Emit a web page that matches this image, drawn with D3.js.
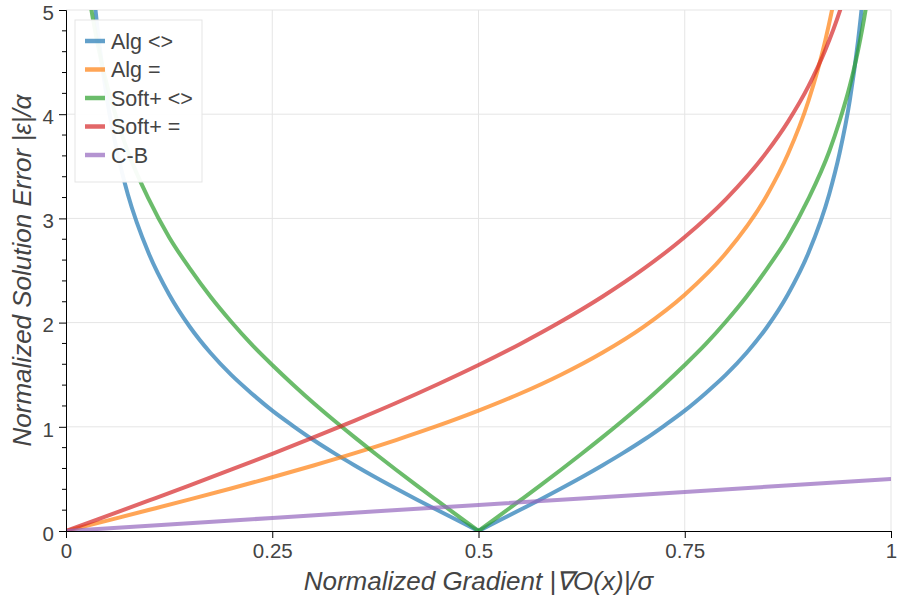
<!DOCTYPE html>
<html>
<head>
<meta charset="utf-8">
<script src="https://cdn.jsdelivr.net/npm/d3@7"></script>
<style>
  body { margin: 0; background: #fff; }
  svg { font-family: "Liberation Sans", Helvetica, Arial, sans-serif; }
</style>
</head>
<body>
<div id="chart"></div>
<script>
// values
const seriesNames = ["Alg <>", "Alg =", "Soft+ <>", "Soft+ =", "C-B"];
const seriesColors = ["#1f77b4", "#ff7f0e", "#2ca02c", "#d62728", "#9467bd"];

const xTicks = [0, 0.25, 0.5, 0.75, 1];
const xTickLabels = ["0", "0.25", "0.5", "0.75", "1"];
const yTicks = [0, 1, 2, 3, 4, 5];

const xAlgNe = [0.03, 0.035, 0.04, 0.05, 0.0625, 0.075, 0.1, 0.125, 0.15, 0.175, 0.2, 0.225, 0.25, 0.275, 0.3, 0.325, 0.35, 0.375, 0.4, 0.425, 0.45, 0.475, 0.5,
                0.525, 0.55, 0.575, 0.6, 0.625, 0.65, 0.675, 0.7, 0.725, 0.75, 0.775, 0.8, 0.825, 0.85, 0.875, 0.9, 0.925, 0.9375, 0.95, 0.96, 0.965, 0.97];
const yAlgNe = [5.51, 5.06, 4.70, 4.13, 3.62, 3.23, 2.67, 2.27, 1.96, 1.71, 1.50, 1.32, 1.155, 1.01, 0.873, 0.747, 0.629, 0.516, 0.408, 0.303, 0.201, 0.100, 0,
                0.100, 0.201, 0.303, 0.408, 0.516, 0.629, 0.747, 0.873, 1.01, 1.155, 1.32, 1.50, 1.71, 1.96, 2.27, 2.67, 3.23, 3.62, 4.13, 4.70, 5.06, 5.51];

const xAlgEq = [0, 0.05, 0.1, 0.15, 0.2, 0.25, 0.3, 0.35, 0.4, 0.45, 0.5, 0.55, 0.6, 0.65, 0.7, 0.75, 0.8, 0.85, 0.875, 0.9, 0.92, 0.93, 0.94];
const yAlgEq = [0, 0.100, 0.201, 0.303, 0.408, 0.516, 0.629, 0.747, 0.873, 1.008, 1.155, 1.317, 1.50, 1.711, 1.96, 2.268, 2.667, 3.227, 3.615, 4.129, 4.695, 5.06, 5.51];

const xSoftNe = [0.025, 0.03, 0.04, 0.05, 0.0625, 0.075, 0.1, 0.125, 0.15, 0.175, 0.2, 0.225, 0.25, 0.275, 0.3, 0.325, 0.35, 0.375, 0.4, 0.425, 0.45, 0.475, 0.5,
                 0.525, 0.55, 0.575, 0.6, 0.625, 0.65, 0.675, 0.7, 0.725, 0.75, 0.775, 0.8, 0.825, 0.85, 0.875, 0.9, 0.925, 0.9375, 0.95, 0.96, 0.97, 0.975];
const ySoftNe = [5.31, 5.04, 4.61, 4.27, 3.93, 3.64, 3.19, 2.82, 2.52, 2.25, 2.01, 1.79, 1.593, 1.406, 1.228, 1.06, 0.898, 0.741, 0.588, 0.438, 0.291, 0.145, 0,
                 0.145, 0.291, 0.438, 0.588, 0.741, 0.898, 1.06, 1.228, 1.406, 1.593, 1.79, 2.01, 2.25, 2.52, 2.82, 3.19, 3.64, 3.93, 4.27, 4.61, 5.04, 5.31];

const xSoftEq = [0, 0.05, 0.1, 0.15, 0.2, 0.25, 0.3, 0.35, 0.4, 0.45, 0.5, 0.55, 0.6, 0.65, 0.7, 0.75, 0.8, 0.85, 0.875, 0.9, 0.92, 0.94, 0.95];
const ySoftEq = [0, 0.145, 0.291, 0.438, 0.588, 0.741, 0.898, 1.06, 1.228, 1.406, 1.593, 1.793, 2.01, 2.248, 2.515, 2.822, 3.186, 3.643, 3.927, 4.269, 4.608, 5.04, 5.31];

const xCB = [0, 0.25, 0.5, 0.75, 1];
const yCB = [0, 0.125, 0.25, 0.375, 0.5];

const seriesX = [xAlgNe, xAlgEq, xSoftNe, xSoftEq, xCB];
const seriesY = [yAlgNe, yAlgEq, ySoftNe, ySoftEq, yCB];

const margin = {top: 10, right: 9, bottom: 69, left: 66};
const width = 900 - margin.left - margin.right;
const height = 600 - margin.top - margin.bottom;

const svg = d3.select("#chart").append("svg")
    .attr("width", 900)
    .attr("height", 600);

const g = svg.append("g")
    .attr("transform", `translate(${margin.left},${margin.top})`);

const x = d3.scaleLinear().domain([0, 1]).range([0, width]);
const y = d3.scaleLinear().domain([0, 5]).range([height, 0]);

// grid
g.append("g").selectAll("line")
    .data(xTicks.slice(1))
    .join("line")
    .attr("x1", d => x(d)).attr("x2", d => x(d))
    .attr("y1", 0).attr("y2", height)
    .attr("stroke", "#e5e5e5");

g.append("g").selectAll("line")
    .data(yTicks.slice(1))
    .join("line")
    .attr("x1", 0).attr("x2", width)
    .attr("y1", d => y(d)).attr("y2", d => y(d))
    .attr("stroke", "#e5e5e5");

g.append("clipPath").attr("id", "plot-clip")
    .append("rect").attr("width", width).attr("height", height);

const line = d3.line()
    .x(d => x(d[0]))
    .y(d => y(d[1]))
    .curve(d3.curveMonotoneX);

// V-shaped series are drawn as two branches so the corner at 0.5 stays sharp
const lines = g.append("g").attr("clip-path", "url(#plot-clip)");
seriesNames.forEach((name, i) => {
    const pts = seriesX[i].map((v, j) => [v, seriesY[i][j]]);
    const kink = pts.findIndex((p, j) => j > 0 && j < pts.length - 1 && p[1] < pts[j - 1][1] && p[1] < pts[j + 1][1]);
    const branches = kink > 0 ? [pts.slice(0, kink + 1), pts.slice(kink)] : [pts];
    branches.forEach(b => {
        lines.append("path")
            .datum(b)
            .attr("fill", "none")
            .attr("stroke", seriesColors[i])
            .attr("stroke-opacity", 0.7)
            .attr("stroke-width", 4)
            .attr("d", line);
    });
});

// axes
const xAxis = g.append("g")
    .attr("transform", `translate(0,${height})`)
    .call(d3.axisBottom(x).tickValues(xTicks)
        .tickFormat((d, i) => xTickLabels[i]).tickSizeOuter(0).tickSize(7).tickPadding(5));

const yAxis = g.append("g")
    .call(d3.axisLeft(y).tickValues(yTicks).tickFormat(d3.format("d"))
        .tickSizeOuter(0).tickSize(7).tickPadding(5));
yAxis.selectAll(".tick text").attr("dy", "0.45em");

[xAxis, yAxis].forEach(a => {
    a.attr("font-family", null).attr("font-size", 20.5);
    a.select(".domain").attr("stroke", "#000");
    a.selectAll(".tick text").attr("fill", "#444");
});

// minor ticks on y
g.append("g").selectAll("line")
    .data(d3.range(0, 25).map(k => k * 0.2).filter(v => Math.abs(v - Math.round(v)) > 1e-6))
    .join("line")
    .attr("x1", -4).attr("x2", 0)
    .attr("y1", d => y(d)).attr("y2", d => y(d))
    .attr("stroke", "#000");

// axis labels
svg.append("text")
    .attr("x", margin.left + width / 2)
    .attr("y", 590)
    .attr("text-anchor", "middle")
    .attr("font-style", "italic")
    .attr("font-size", 26)
    .attr("fill", "#444")
    .text("Normalized Gradient |∇O(x)|/σ");

svg.append("text")
    .attr("transform", `translate(31,${margin.top + height / 2}) rotate(-90)`)
    .attr("text-anchor", "middle")
    .attr("font-style", "italic")
    .attr("font-size", 26)
    .attr("fill", "#444")
    .text("Normalized Solution Error |ε|/α");

// legend
const legend = svg.append("g").attr("transform", "translate(75,20)");
legend.append("rect")
    .attr("width", 127).attr("height", 162)
    .attr("fill", "#fff").attr("fill-opacity", 0.95)
    .attr("stroke", "#e5e5e5");

seriesNames.forEach((name, i) => {
    const row = legend.append("g").attr("transform", `translate(0,${21 + i * 28.5})`);
    row.append("line")
        .attr("x1", 10).attr("x2", 30)
        .attr("stroke", seriesColors[i])
        .attr("stroke-opacity", 0.7)
        .attr("stroke-width", 4.5);
    row.append("text")
        .attr("x", 36).attr("dy", "0.35em")
        .attr("font-size", 21.5)
        .attr("fill", "#444")
        .text(name);
});
</script>
</body>
</html>
